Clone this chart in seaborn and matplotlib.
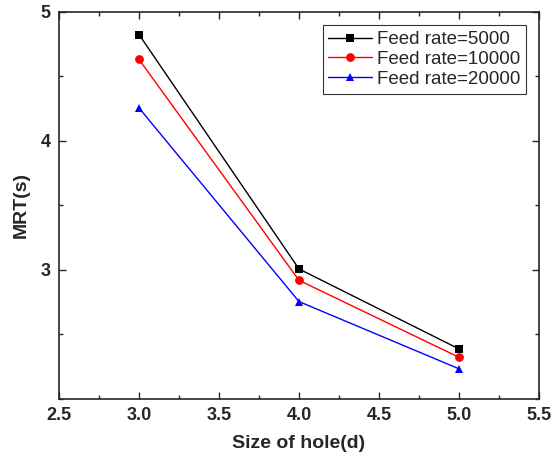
import numpy as np
import pandas as pd
import matplotlib
matplotlib.use("Agg")
import matplotlib.pyplot as plt
import seaborn as sns
from matplotlib.ticker import MultipleLocator

hole_size = [3.0, 4.0, 5.0]
mrt_5000 = [4.825, 3.008, 2.388]
mrt_10000 = [4.632, 2.920, 2.323]
mrt_20000 = [4.256, 2.755, 2.234]
series_labels = ["Feed rate=5000", "Feed rate=10000", "Feed rate=20000"]

sns.set_style("ticks")
plt.rcParams['font.family'] = ['Liberation Sans', 'DejaVu Sans']

df = pd.DataFrame({
    "size": hole_size * 3,
    "mrt": mrt_5000 + mrt_10000 + mrt_20000,
    "series": [series_labels[0]] * 3 + [series_labels[1]] * 3 + [series_labels[2]] * 3,
})

fig = plt.figure(figsize=(5.53, 4.61), dpi=100)
ax = fig.add_axes([0.1067, 0.1345, 0.868, 0.8395])

sns.lineplot(data=df, x="size", y="mrt", hue="series", style="series",
             palette=["black", "red", "blue"], markers=["s", "o", "^"],
             dashes=False, linewidth=1.0, markersize=6.3, markeredgewidth=0,
             ax=ax)

ax.set_xlim(2.5, 5.5)
ax.set_ylim(2.0, 5.0)
ax.set_xticks([2.5, 3.0, 3.5, 4.0, 4.5, 5.0, 5.5])
ax.set_xticklabels(["2.5", "3.0", "3.5", "4.0", "4.5", "5.0", "5.5"])
ax.set_yticks([3, 4, 5])
ax.xaxis.set_minor_locator(MultipleLocator(0.25))
ax.yaxis.set_minor_locator(MultipleLocator(0.5))
ax.tick_params(which="both", direction="in", top=True, right=True, width=1.0)
ax.tick_params(which="major", length=5, labelsize=13, pad=6)
ax.tick_params(which="minor", length=3)
for lab in ax.get_xticklabels() + ax.get_yticklabels():
    lab.set_fontweight("bold")
for sp in ax.spines.values():
    sp.set_linewidth(1.2)

ax.set_xlabel("Size of hole(d)", fontsize=14, fontweight="bold", labelpad=8)
ax.set_ylabel("MRT(s)", fontsize=14, fontweight="bold", labelpad=8)

leg = ax.legend(loc="upper right", bbox_to_anchor=(0.985, 0.98), fontsize=13.5,
                frameon=True, fancybox=False, edgecolor="black",
                handlelength=2.3, handletextpad=0.3, borderpad=0.3,
                labelspacing=0.15, borderaxespad=0.3)
leg.get_frame().set_linewidth(0.8)

fig.savefig("out.png", dpi=100)
